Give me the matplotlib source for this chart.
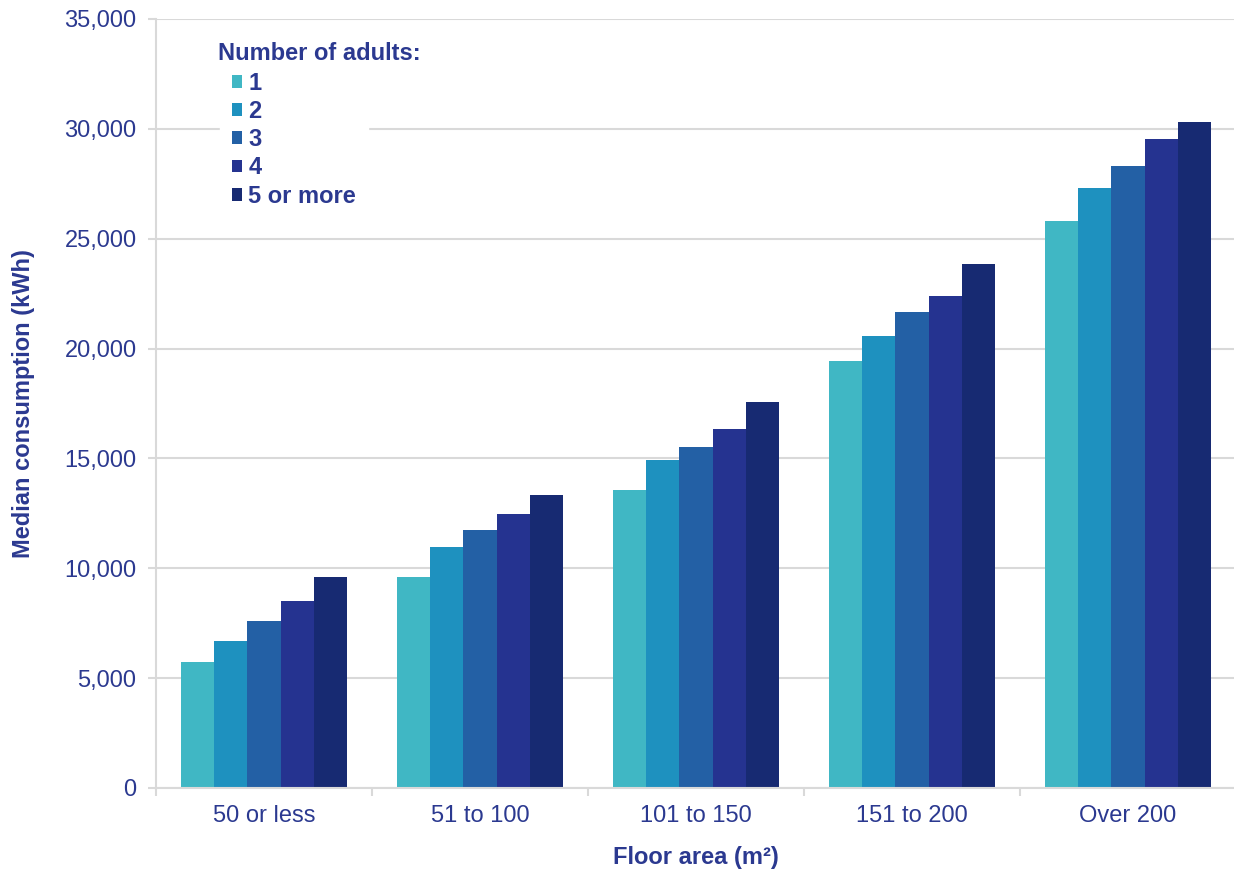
import numpy as np
import matplotlib.pyplot as plt
from matplotlib.patches import Patch
from matplotlib.ticker import FuncFormatter, FixedLocator

plt.rcParams['font.family'] = ['Liberation Sans', 'DejaVu Sans']

# data
categories = ['50 or less', '51 to 100', '101 to 150', '151 to 200', 'Over 200']
series_names = ['1', '2', '3', '4', '5 or more']
adults_1 = [5730, 9600, 13560, 19430, 25800]
adults_2 = [6690, 10970, 14930, 20570, 27300]
adults_3 = [7600, 11740, 15520, 21660, 28300]
adults_4 = [8510, 12470, 16340, 22390, 29530]
adults_5 = [9600, 13330, 17570, 23850, 30310]
colors = ['#40B7C4', '#1E91BF', '#2360A5', '#253390', '#172A72']

txt = '#2B3990'
grid = '#D9D9D9'
fs = 17

fig = plt.figure(figsize=(12.34, 8.69), dpi=100)
ax = fig.add_axes([156/1234, 81/869, 1080/1234, 769/869])

x = np.arange(len(categories))
w = 0.153
all_series = [adults_1, adults_2, adults_3, adults_4, adults_5]
for i, vals in enumerate(all_series):
    ax.bar(x + (i - 2) * w, vals, width=w, color=colors[i], zorder=3)

ax.set_xlim(-0.5, len(categories) - 0.5)
ax.set_ylim(0, 35000)
ax.set_yticks(np.arange(0, 35001, 5000))
ax.yaxis.set_major_formatter(FuncFormatter(lambda v, p: f'{int(v):,}'))
ax.yaxis.grid(True, color=grid, linewidth=1.5, zorder=0)

ax.set_xticks(x)
ax.set_xticklabels(categories)
ax.xaxis.set_minor_locator(FixedLocator(np.arange(-0.5, len(categories), 1)))
ax.tick_params(axis='x', which='major', length=0, pad=12, labelsize=fs, labelcolor=txt)
ax.tick_params(axis='x', which='minor', length=6, width=1.5, color=grid)
ax.tick_params(axis='y', length=6, width=1.5, color=grid, labelsize=fs, labelcolor=txt, pad=8)

for s in ['top', 'right']:
    ax.spines[s].set_visible(False)
for s in ['left', 'bottom']:
    ax.spines[s].set_color(grid)
    ax.spines[s].set_linewidth(1.5)
    ax.spines[s].set_zorder(4)

ax.set_ylabel('Median consumption (kWh)', fontsize=fs, fontweight='bold', color=txt, labelpad=21)
ax.set_xlabel('Floor area (m²)', fontsize=fs, fontweight='bold', color=txt, labelpad=14)

# legend title sits a little left of the swatches
ax.text((218 - 156) / 1080, (788 - 53) / 769, 'Number of adults:', transform=ax.transAxes,
        ha='left', va='center', fontsize=fs, fontweight='bold', color=txt, zorder=6)

handles = [Patch(facecolor=c, edgecolor='none') for c in colors]
leg = ax.legend(handles, series_names, loc='upper left',
                bbox_to_anchor=((220 - 156) / 1080, (788 - 60) / 769), frameon=True, framealpha=1,
                edgecolor='white', fancybox=False, handlelength=0.45, handleheight=0.45,
                handletextpad=0.25, labelspacing=0.22, borderpad=0.5, borderaxespad=0,
                fontsize=fs)
for t in leg.get_texts():
    t.set_fontweight('bold')
    t.set_color(txt)
leg.set_zorder(5)

fig.savefig('out.png', dpi=100)
